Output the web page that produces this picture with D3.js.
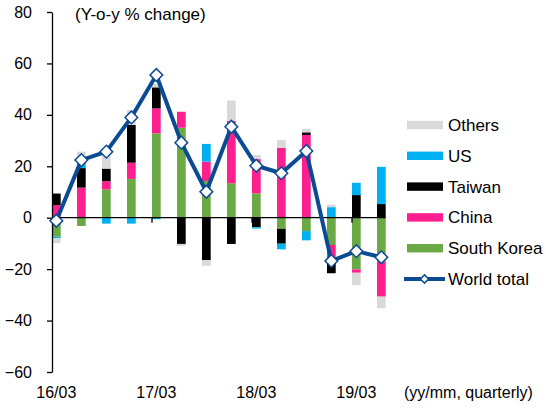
<!DOCTYPE html>
<html>
<head>
<meta charset="utf-8">
<script src="https://cdn.jsdelivr.net/npm/d3@7"></script>
<style>
body { margin: 0; background: #fff; }
svg { font-family: 'Liberation Sans', Arial, sans-serif; }
</style>
</head>
<body>
<svg id="chart" width="546" height="408"></svg>
<script>
'use strict'

var quarters = ['16/03','16/06','16/09','16/12','17/03','17/06','17/09','17/12','18/03','18/06','18/09','18/12','19/03','19/06'];
var tickLabels = ['16/03','17/03','18/03','19/03'];
var yTicks = [-60,-40,-20,0,20,40,60,80];

// contributions, percentage points
var southKorea = [-7.4,-3.2,11.0,15.1,32.8,35.0,14.3,13.4,9.5,-4.3,-5.2,-10.6,-20.1,-17.1];
var china      = [4.9,11.7,3.2,6.3,9.7,6.2,7.5,24.2,13.3,27.2,32.2,-6.5,-1.3,-13.6];
var taiwan     = [4.5,7.6,4.9,14.7,8.2,-10.2,-16.5,-10.2,-3.7,-5.8,1.0,-4.5,8.8,5.3];
var us         = [-0.6,2.0,-2.3,-2.3,-0.6,0,6.9,0,-0.5,-2.2,-3.6,4.1,4.8,14.5];
var others     = [-1.9,4.4,5.2,5.8,1.3,-0.8,-2.2,8.0,1.6,3.0,1.3,1.0,-4.8,-4.5];
var worldTotal = [-1.2,22.4,25.7,39.0,55.5,29.2,10.1,35.4,20.2,17.3,25.9,-16.8,-13.0,-15.4];

var keys = ['South Korea','China','Taiwan','US','Others'];
var colors = {'South Korea':'#6aa944','China':'#ff1f8e','Taiwan':'#000000','US':'#00b0f0','Others':'#d9d9d9'};
var lineColor = '#0b4b93';

var rows = quarters.map(function(q,i){
	return {q:q,'South Korea':southKorea[i],'China':china[i],'Taiwan':taiwan[i],'US':us[i],'Others':others[i],world:worldTotal[i]};
});

var svg = d3.select('#chart');
var x = d3.scaleBand().domain(quarters).range([52,402]);
var barW = 8.7;
var y = d3.scaleLinear().domain([-60,80]).range([372,12]);
var cx = function(q){ return x(q)+barW/2; };

var series = d3.stack().keys(keys).offset(d3.stackOffsetDiverging)(rows);

svg.append('g').selectAll('g')
	.data(series)
	.join('g')
	.attr('fill',function(s){ return colors[s.key]; })
	.selectAll('rect')
	.data(function(s){ return s; })
	.join('rect')
	.attr('x',function(d){ return x(d.data.q); })
	.attr('width',barW)
	.attr('y',function(d){ return y(Math.max(d[0],d[1])); })
	.attr('height',function(d){ return Math.abs(y(d[0])-y(d[1])); });

// y axis
var yAxis = svg.append('g')
	.attr('transform','translate(52,0)')
	.call(d3.axisLeft(y).tickValues(yTicks).tickSize(5).tickSizeOuter(0).tickPadding(15));
yAxis.select('.domain').attr('stroke','#000').attr('stroke-width',1.3);
yAxis.selectAll('.tick line').attr('stroke','#000').attr('stroke-width',1.3);
yAxis.selectAll('text').attr('font-size',16).attr('fill','#000').attr('font-family','Liberation Sans, Arial, sans-serif');

// zero line with ticks at year starts
var last = quarters[quarters.length-1];
svg.append('line')
	.attr('x1',52).attr('x2',x(last)+barW)
	.attr('y1',y(0)).attr('y2',y(0))
	.attr('stroke','#000').attr('stroke-width',1.3);
svg.append('g').selectAll('line')
	.data(tickLabels.slice(1))
	.join('line')
	.attr('x1',function(d){ return x(d); })
	.attr('x2',function(d){ return x(d); })
	.attr('y1',y(0)).attr('y2',y(0)+5)
	.attr('stroke','#000').attr('stroke-width',1.3);

svg.append('g').selectAll('text')
	.data(tickLabels)
	.join('text')
	.attr('x',function(d){ return cx(d); })
	.attr('y',398)
	.attr('text-anchor','middle')
	.attr('font-size',16)
	.text(function(d){ return d; });

svg.append('text').attr('x',404).attr('y',398).attr('font-size',16).text('(yy/mm, quarterly)');
svg.append('text').attr('x',75).attr('y',20).attr('font-size',17).text('(Y-o-y % change)');

// world total line
var line = d3.line().x(function(d){ return cx(d.q); }).y(function(d){ return y(d.world); });
svg.append('path')
	.datum(rows)
	.attr('d',line)
	.attr('fill','none')
	.attr('stroke',lineColor)
	.attr('stroke-width',4)
	.attr('stroke-linejoin','round');

var diamond = d3.symbol().type(d3.symbolSquare).size(80);
svg.append('g').selectAll('path')
	.data(rows)
	.join('path')
	.attr('d',diamond)
	.attr('transform',function(d){ return 'translate('+cx(d.q)+','+y(d.world)+') rotate(45)'; })
	.attr('fill','#fff')
	.attr('stroke',lineColor)
	.attr('stroke-width',1.5);

// legend
var legendKeys = ['Others','US','Taiwan','China','South Korea'];
var legend = svg.append('g');
legendKeys.forEach(function(k,i){
	var ly = 125 + i*30.8;
	legend.append('rect').attr('x',407).attr('y',ly-4.2).attr('width',36).attr('height',8.4).attr('fill',colors[k]);
	legend.append('text').attr('x',448).attr('y',ly+6).attr('font-size',17).text(k);
});
var wy = 125 + 5*30.8;
legend.append('line').attr('x1',404).attr('x2',445).attr('y1',wy).attr('y2',wy).attr('stroke',lineColor).attr('stroke-width',4);
legend.append('path')
	.attr('d',d3.symbol().type(d3.symbolSquare).size(34)())
	.attr('transform','translate(424.5,'+wy+') rotate(45)')
	.attr('fill','#fff').attr('stroke',lineColor).attr('stroke-width',1.5);
legend.append('text').attr('x',448).attr('y',wy+6).attr('font-size',17).text('World total');
</script>
</body>
</html>
